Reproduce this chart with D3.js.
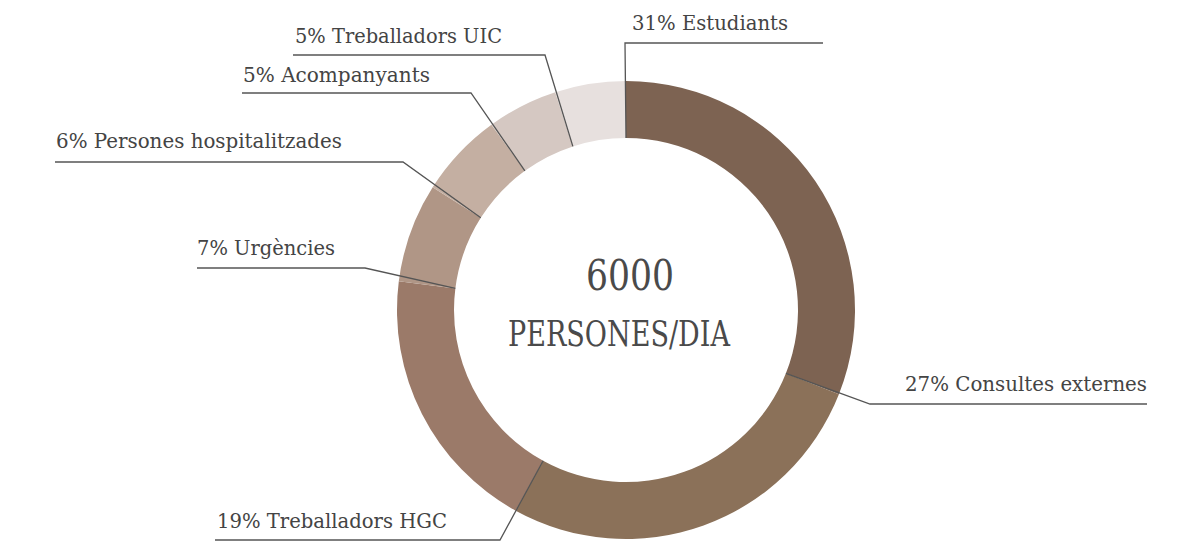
<!DOCTYPE html>
<html><head><meta charset="utf-8">
<script src="https://cdn.jsdelivr.net/npm/d3@7"></script>
<style>html,body{margin:0;padding:0;background:#fff;}svg{display:block;}</style>
</head><body>
<svg id="chart" width="1196" height="549"></svg>
<script>
const categories = ["Estudiants","Consultes externes","Treballadors HGC","Urgències","Persones hospitalitzades","Acompanyants","Treballadors UIC"];
const percents = [31,27,19,7,6,5,5];
const colors = ["#7d6352","#8b7159","#9b7a69","#b09686","#c4afa2","#d5c8c2","#e7e0de"];
const centerValue = "6000";
const centerLabel = "PERSONES/DIA";

// label layout: elbow point, horizontal end, text anchor/baseline, target width
const labelLayout = [
  {ex:625, ey:43, hx:823, tx:632, ty:30, anchor:"start", w:156},
  {ex:870, ey:404, hx:1147, tx:1147, ty:391, anchor:"end", w:242},
  {ex:500, ey:540, hx:215, tx:217, ty:528, anchor:"start", w:230},
  {ex:365, ey:268, hx:197, tx:197, ty:255, anchor:"start", w:138},
  {ex:403, ey:162, hx:55, tx:56, ty:148, anchor:"start", w:286},
  {ex:471, ey:93, hx:242, tx:243, ty:82, anchor:"start", w:187},
  {ex:545, ey:55, hx:293, tx:295, ty:43, anchor:"start", w:207}
];

const cx = 626, cy = 310, rOuter = 229, rInner = 172;
const svg = d3.select("#chart");
const g = svg.append("g").attr("transform", `translate(${cx},${cy})`);

const data = categories.map((c,i)=>({name:c, value:percents[i], color:colors[i]}));
const pie = d3.pie().value(d=>d.value).sort(null);
const arcs = pie(data);
const arc = d3.arc().innerRadius(rInner).outerRadius(rOuter);

g.selectAll("path.slice").data(arcs).join("path")
  .attr("class","slice").attr("d",arc).attr("fill",d=>d.data.color);

const font = "'DejaVu Serif', 'Liberation Serif', serif";

// leader lines
arcs.forEach((a,i)=>{
  const L = labelLayout[i];
  const ang = a.startAngle;
  const sx = cx + rInner*Math.sin(ang);
  const sy = cy - rInner*Math.cos(ang);
  svg.append("polyline")
    .attr("points", `${sx},${sy} ${L.ex},${L.ey} ${L.hx},${L.ey}`)
    .attr("fill","none").attr("stroke","#555").attr("stroke-width",1.3);
  svg.append("text")
    .attr("x",L.tx).attr("y",L.ty)
    .attr("text-anchor",L.anchor)
    .attr("font-family",font).attr("font-size",21)
    .attr("fill","#444")
    .attr("textLength",L.w).attr("lengthAdjust","spacingAndGlyphs")
    .text(`${a.data.value}% ${a.data.name}`);
});

svg.append("text").attr("x",630).attr("y",290).attr("text-anchor","middle")
  .attr("font-family",font).attr("font-size",42).attr("fill","#4a4a4a")
  .attr("textLength",88).attr("lengthAdjust","spacingAndGlyphs")
  .text(centerValue);
svg.append("text").attr("x",619).attr("y",346).attr("text-anchor","middle")
  .attr("font-family",font).attr("font-size",36).attr("fill","#4a4a4a")
  .attr("textLength",222).attr("lengthAdjust","spacingAndGlyphs")
  .text(centerLabel);
</script>
</body></html>
